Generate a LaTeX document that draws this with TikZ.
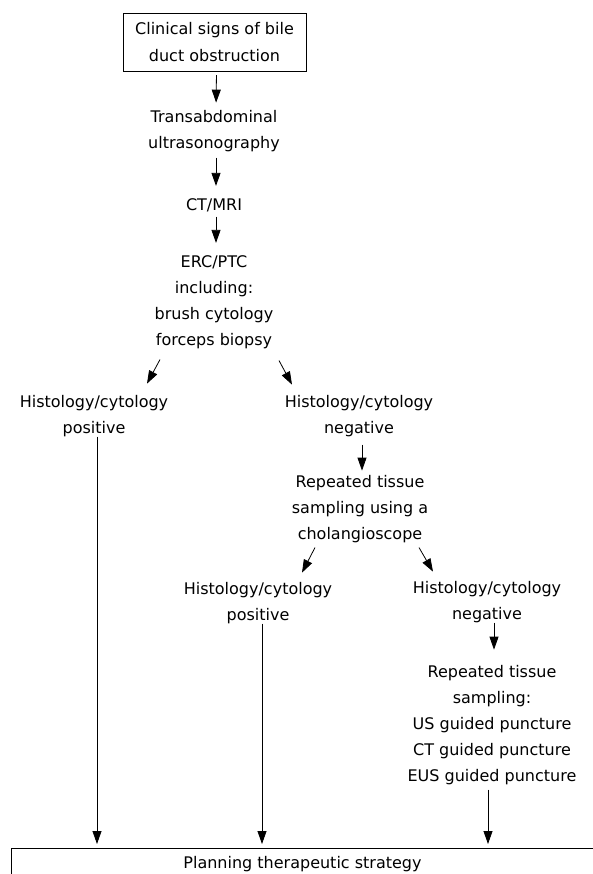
\documentclass[tikz,border=0pt]{standalone}
\usepackage{fontspec}
\setmainfont{DejaVu Sans}
\usetikzlibrary{arrows.meta,positioning}

\tikzset{
    txt/.style={align=center, inner sep=0pt, anchor=base,
        font=\fontsize{16pt}{26pt}\selectfont},
    flow/.style={-{Triangle[width=9pt,length=13pt]}, line width=0.8pt},
}

\begin{document}
\begin{tikzpicture}[x=1pt, y=-1pt]
    \useasboundingbox (0,0) rectangle (593,874);
    \clip (0,0) rectangle (593,874);

    % nodes are placed at the baseline of their last line
    \node[draw, align=center, inner sep=0pt, minimum width=183pt, minimum height=58pt,
        font=\fontsize{16pt}{27pt}\selectfont] (signs) at (214.5,42)
        {Clinical signs of bile\\duct obstruction};
    \node[txt] (trans) at (214,149) {Transabdominal\\ultrasonography};
    \node[txt] (ctmri) at (214,211) {CT/MRI};
    \node[txt] (erc) at (214,345) {ERC/PTC\\including:\\brush cytology\\forceps biopsy};

    \node[txt] (pos1) at (94,433) {Histology/cytology\\positive};
    \node[txt] (neg1) at (359,433) {Histology/cytology\\negative};
    \node[txt] (rep1) at (360,539) {Repeated tissue\\sampling using a\\cholangioscope};

    \node[txt] (pos2) at (258,620) {Histology/cytology\\positive};
    \node[txt] (neg2) at (487,619) {Histology/cytology\\negative};
    \node[txt] (rep2) at (492,781)
        {Repeated tissue\\sampling:\\US guided puncture\\CT guided puncture\\EUS guided puncture};

    \node[draw, anchor=north, inner xsep=0pt, inner ysep=8pt, minimum width=583pt,
        font=\fontsize{16pt}{26pt}\selectfont] (plan) at (302.5,848)
        {Planning therapeutic strategy};

    \draw
    ([xshift=2pt]signs.south) edge[flow, shorten <=4pt, shorten >=8pt] ([xshift=2pt]trans.north)
    ([xshift=2pt]trans.south) edge[flow, shorten <=5pt, shorten >=13pt] ([xshift=2pt]ctmri.north)
    ([xshift=2pt]ctmri.south) edge[flow, shorten <=4pt, shorten >=12pt] ([xshift=2pt]erc.north)
    ([shift={(-54,11)}]erc.south) edge[flow] ([shift={(53,-11)}]pos1.north)
    ([shift={(65,12)}]erc.south) edge[flow] ([shift={(-67,-10)}]neg1.north)
    ([xshift=3pt]neg1.south) edge[flow, shorten <=8pt, shorten >=4pt] ([xshift=2pt]rep1.north)
    ([shift={(-45,5)}]rep1.south) edge[flow] ([shift={(44,-9)}]pos2.north)
    ([shift={(59,5)}]rep1.south) edge[flow] ([shift={(-54,-9)}]neg2.north)
    ([xshift=7pt]neg2.south) edge[flow, shorten >=15pt] ([xshift=2pt]rep2.north)
    ([xshift=3pt]pos1.south) edge[flow, shorten >=4pt] ([xshift=3pt]pos1.south |- plan.north)
    ([xshift=4pt]pos2.south) edge[flow, shorten >=4pt] ([xshift=4pt]pos2.south |- plan.north)
    ([xshift=-4pt]rep2.south) edge[flow, shorten <=5pt, shorten >=4pt] ([xshift=-4pt]rep2.south |- plan.north);
\end{tikzpicture}
\end{document}
